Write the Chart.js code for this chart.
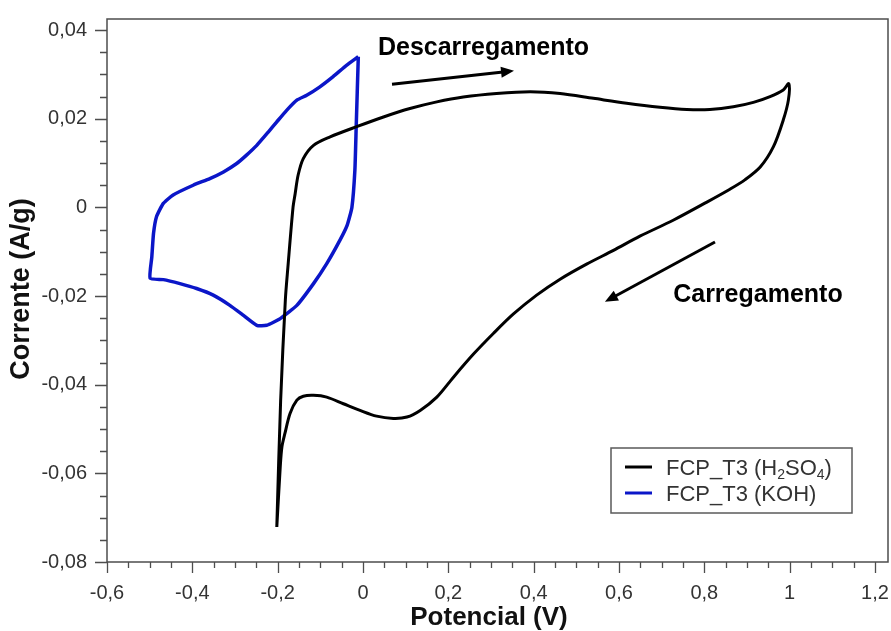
<!DOCTYPE html>
<html>
<head>
<meta charset="utf-8">
<title>Voltametria cíclica FCP_T3</title>
<script src="https://cdn.jsdelivr.net/npm/chart.js"></script>
<style>
  html, body { margin: 0; padding: 0; background: #fff; }
  #wrap { width: 891px; height: 631px; position: relative; }
</style>
</head>
<body>
<div id="wrap"><canvas id="cv"></canvas></div>
<script>
// Voltamogramas (potencial em V, corrente em A/g), percorridos em ordem
var h2so4Potential = [-0.202, -0.193, -0.182, -0.176, -0.164, -0.159, -0.152, -0.140, -0.116, -0.077,
  -0.015, 0.048, 0.110, 0.173, 0.235, 0.313, 0.392, 0.462, 0.540, 0.618,
  0.696, 0.759, 0.813, 0.868, 0.915, 0.954, 0.985, 0.998,
  0.997, 0.985, 0.962, 0.931, 0.895, 0.860, 0.806, 0.727, 0.649, 0.587,
  0.524, 0.462, 0.407, 0.352, 0.306, 0.259, 0.212, 0.173, 0.134, 0.103,
  0.071, 0.032, -0.007, -0.046, -0.085, -0.116, -0.140, -0.155, -0.171, -0.183,
  -0.190, -0.194, -0.202];
var h2so4Current = [-0.0721, -0.0435, -0.0209, -0.0135, 0.0000, 0.0031, 0.0073, 0.0110, 0.0140, 0.0159,
  0.0182, 0.0204, 0.0223, 0.0238, 0.0249, 0.0257, 0.0261, 0.0257, 0.0246, 0.0235,
  0.0226, 0.0221, 0.0221, 0.0227, 0.0237, 0.0250, 0.0265, 0.0279,
  0.0242, 0.0197, 0.0137, 0.0091, 0.0062, 0.0041, 0.0012, -0.0029, -0.0065, -0.0097,
  -0.0128, -0.0162, -0.0198, -0.0241, -0.0284, -0.0331, -0.0383, -0.0428, -0.0458, -0.0473,
  -0.0476, -0.0471, -0.0458, -0.0443, -0.0428, -0.0424, -0.0426, -0.0435, -0.0465, -0.0510,
  -0.0540, -0.0586, -0.0721];

var kohPotential = [-0.011, -0.016, -0.019, -0.026, -0.037, -0.054, -0.085, -0.116, -0.155, -0.194,
  -0.226, -0.249, -0.281, -0.312, -0.351, -0.390, -0.429, -0.468, -0.499,
  -0.495, -0.491, -0.484, -0.468, -0.445, -0.398, -0.359, -0.327, -0.296, -0.273,
  -0.249, -0.222, -0.202, -0.179, -0.155, -0.132, -0.101, -0.070, -0.038, -0.011];
var kohCurrent = [0.0340, 0.0179, 0.0084, 0.0000, -0.0040, -0.0074, -0.0127, -0.0172, -0.0221, -0.0251,
  -0.0266, -0.0266, -0.0243, -0.0221, -0.0198, -0.0183, -0.0172, -0.0163, -0.0160,
  -0.0112, -0.0059, -0.0021, 0.0009, 0.0028, 0.0050, 0.0065, 0.0080, 0.0099, 0.0118,
  0.0140, 0.0170, 0.0193, 0.0219, 0.0242, 0.0253, 0.0272, 0.0295, 0.0321, 0.0340];

var seriesLabels = ["FCP_T3 (H₂SO₄)", "FCP_T3 (KOH)"];

var xTicks = [-0.6, -0.4, -0.2, 0, 0.2, 0.4, 0.6, 0.8, 1.0, 1.2];
var yTicks = [-0.08, -0.06, -0.04, -0.02, 0, 0.02, 0.04];
var xMinorPerMajor = 3;
var yMinorPerMajor = 3;

var annotations = [
  { text: "Descarregamento", x: 0.035, y: 0.0344, from: [0.068, 0.0278], to: [0.354, 0.0308] },
  { text: "Carregamento", x: 0.727, y: -0.0214, from: [0.825, -0.0078], to: [0.567, -0.0213] }
];

var FONT = '"Liberation Sans", Arial, Helvetica, sans-serif';
var AXIS_COLOR = "#4d4d4d";
var TEXT_COLOR = "#333333";

function zip(xs, ys) {
  return xs.map(function (x, i) { return { x: x, y: ys[i] }; });
}

function fmt(v) {
  var s = String(Math.round(v * 1000) / 1000);
  if (s === "-0") s = "0";
  return s.replace(".", ",");
}

function minorValues(majors, n) {
  var out = [];
  for (var i = 0; i < majors.length - 1; i++) {
    var step = (majors[i + 1] - majors[i]) / (n + 1);
    for (var k = 1; k <= n; k++) out.push(majors[i] + step * k);
  }
  return out;
}

// keep edge tick labels from pushing the plot area inwards
function noEdgePadding(axis) {
  axis.paddingLeft = 0;
  axis.paddingRight = 0;
  axis.paddingTop = 0;
  axis.paddingBottom = 0;
}

// text with unicode subscript digits drawn as smaller, lowered digits
var SUBS = { "₀": "0", "₁": "1", "₂": "2", "₃": "3", "₄": "4", "₅": "5", "₆": "6", "₇": "7", "₈": "8", "₉": "9" };
function drawRichText(ctx, text, x, y, size) {
  var run = "";
  var cx = x;
  function flush() {
    if (!run) return;
    ctx.font = size + "px " + FONT;
    ctx.fillText(run, cx, y);
    cx += ctx.measureText(run).width;
    run = "";
  }
  for (var i = 0; i < text.length; i++) {
    var ch = text[i];
    if (SUBS[ch]) {
      flush();
      ctx.font = Math.round(size * 0.62) + "px " + FONT;
      ctx.fillText(SUBS[ch], cx, y + size * 0.2);
      cx += ctx.measureText(SUBS[ch]).width;
    } else {
      run += ch;
    }
  }
  flush();
}

function drawArrow(ctx, x0, y0, x1, y1) {
  var ang = Math.atan2(y1 - y0, x1 - x0);
  var head = 13, half = 5.5;
  var bx = x1 - head * Math.cos(ang), by = y1 - head * Math.sin(ang);
  ctx.beginPath();
  ctx.moveTo(x0, y0);
  ctx.lineTo(bx + 2 * Math.cos(ang), by + 2 * Math.sin(ang));
  ctx.stroke();
  ctx.beginPath();
  ctx.moveTo(x1, y1);
  ctx.lineTo(bx - half * Math.sin(ang), by + half * Math.cos(ang));
  ctx.lineTo(bx + half * Math.sin(ang), by - half * Math.cos(ang));
  ctx.closePath();
  ctx.fill();
}

var decorations = {
  id: "decorations",
  afterDraw: function (chart) {
    var ctx = chart.ctx;
    var a = chart.chartArea;
    var xs = chart.scales.x, ys = chart.scales.y;
    ctx.save();

    // frame round the plot
    ctx.strokeStyle = AXIS_COLOR;
    ctx.lineWidth = 1.5;
    ctx.strokeRect(a.left, a.top, a.right - a.left, a.bottom - a.top);

    // outward tick marks, major and minor
    ctx.lineWidth = 1.3;
    ctx.beginPath();
    xTicks.forEach(function (v) {
      var p = Math.round(xs.getPixelForValue(v)) + 0.5;
      ctx.moveTo(p, a.bottom); ctx.lineTo(p, a.bottom + 11);
    });
    minorValues(xTicks, xMinorPerMajor).forEach(function (v) {
      var p = Math.round(xs.getPixelForValue(v)) + 0.5;
      ctx.moveTo(p, a.bottom); ctx.lineTo(p, a.bottom + 6);
    });
    yTicks.forEach(function (v) {
      var p = Math.round(ys.getPixelForValue(v)) + 0.5;
      ctx.moveTo(a.left, p); ctx.lineTo(a.left - 12, p);
    });
    minorValues(yTicks, yMinorPerMajor).forEach(function (v) {
      var p = Math.round(ys.getPixelForValue(v)) + 0.5;
      ctx.moveTo(a.left, p); ctx.lineTo(a.left - 7, p);
    });
    ctx.stroke();

    // axis titles
    ctx.fillStyle = "#111";
    ctx.textAlign = "center";
    ctx.textBaseline = "middle";
    ctx.font = "bold 26px " + FONT;
    ctx.fillText("Potencial (V)", 489, 618);
    ctx.save();
    ctx.translate(22, 289);
    ctx.rotate(-Math.PI / 2);
    ctx.font = "bold 27px " + FONT;
    ctx.fillText("Corrente (A/g)", 0, 0);
    ctx.restore();

    // sweep direction notes
    ctx.textAlign = "left";
    ctx.textBaseline = "alphabetic";
    ctx.font = "bold 25px " + FONT;
    ctx.strokeStyle = "#000";
    ctx.fillStyle = "#000";
    ctx.lineWidth = 3;
    annotations.forEach(function (n) {
      ctx.fillText(n.text, xs.getPixelForValue(n.x), ys.getPixelForValue(n.y));
      drawArrow(ctx,
        xs.getPixelForValue(n.from[0]), ys.getPixelForValue(n.from[1]),
        xs.getPixelForValue(n.to[0]), ys.getPixelForValue(n.to[1]));
    });

    // legend box
    var bx = a.right - 277, by = a.bottom - 114, bw = 241, bh = 65;
    ctx.fillStyle = "#fff";
    ctx.fillRect(bx, by, bw, bh);
    ctx.strokeStyle = "#5a5a5a";
    ctx.lineWidth = 1.5;
    ctx.strokeRect(bx, by, bw, bh);
    chart.data.datasets.forEach(function (ds, i) {
      var rowY = by + 19 + i * 26;
      ctx.strokeStyle = ds.borderColor;
      ctx.lineWidth = 3;
      ctx.beginPath();
      ctx.moveTo(bx + 14, rowY);
      ctx.lineTo(bx + 41, rowY);
      ctx.stroke();
      ctx.fillStyle = TEXT_COLOR;
      drawRichText(ctx, ds.label, bx + 55, rowY + 8, 22);
    });

    ctx.restore();
  }
};

new Chart(document.getElementById("cv"), {
  type: "scatter",
  data: {
    datasets: [
      {
        label: seriesLabels[0],
        data: zip(h2so4Potential, h2so4Current),
        showLine: true,
        borderColor: "#000000",
        borderWidth: 3,
        pointRadius: 0,
        tension: 0.3
      },
      {
        label: seriesLabels[1],
        data: zip(kohPotential, kohCurrent),
        showLine: true,
        borderColor: "#0b16c8",
        borderWidth: 3.5,
        pointRadius: 0,
        tension: 0.15
      }
    ]
  },
  options: {
    responsive: true,
    maintainAspectRatio: false,
    animation: false,
    layout: { padding: { top: 19, right: 3, left: 0, bottom: 0 } },
    plugins: {
      legend: { display: false },
      tooltip: { enabled: false }
    },
    scales: {
      x: {
        type: "linear",
        min: -0.6,
        max: 1.2305,
        grid: { display: false, drawTicks: false },
        border: { display: false },
        afterBuildTicks: function (axis) {
          axis.ticks = xTicks.map(function (v) { return { value: v }; });
        },
        afterFit: function (axis) { axis.height = 69; noEdgePadding(axis); },
        ticks: {
          padding: 19,
          autoSkip: false,
          maxRotation: 0,
          color: TEXT_COLOR,
          font: { family: FONT, size: 20 },
          callback: function (v) { return fmt(v); }
        }
      },
      y: {
        type: "linear",
        min: -0.08,
        max: 0.0425,
        grid: { display: false, drawTicks: false },
        border: { display: false },
        afterBuildTicks: function (axis) {
          axis.ticks = yTicks.map(function (v) { return { value: v }; });
        },
        afterFit: function (axis) { axis.width = 107; noEdgePadding(axis); },
        ticks: {
          padding: 20,
          autoSkip: false,
          color: TEXT_COLOR,
          font: { family: FONT, size: 20 },
          callback: function (v) { return fmt(v); }
        }
      }
    }
  },
  plugins: [decorations]
});
</script>
</body>
</html>
